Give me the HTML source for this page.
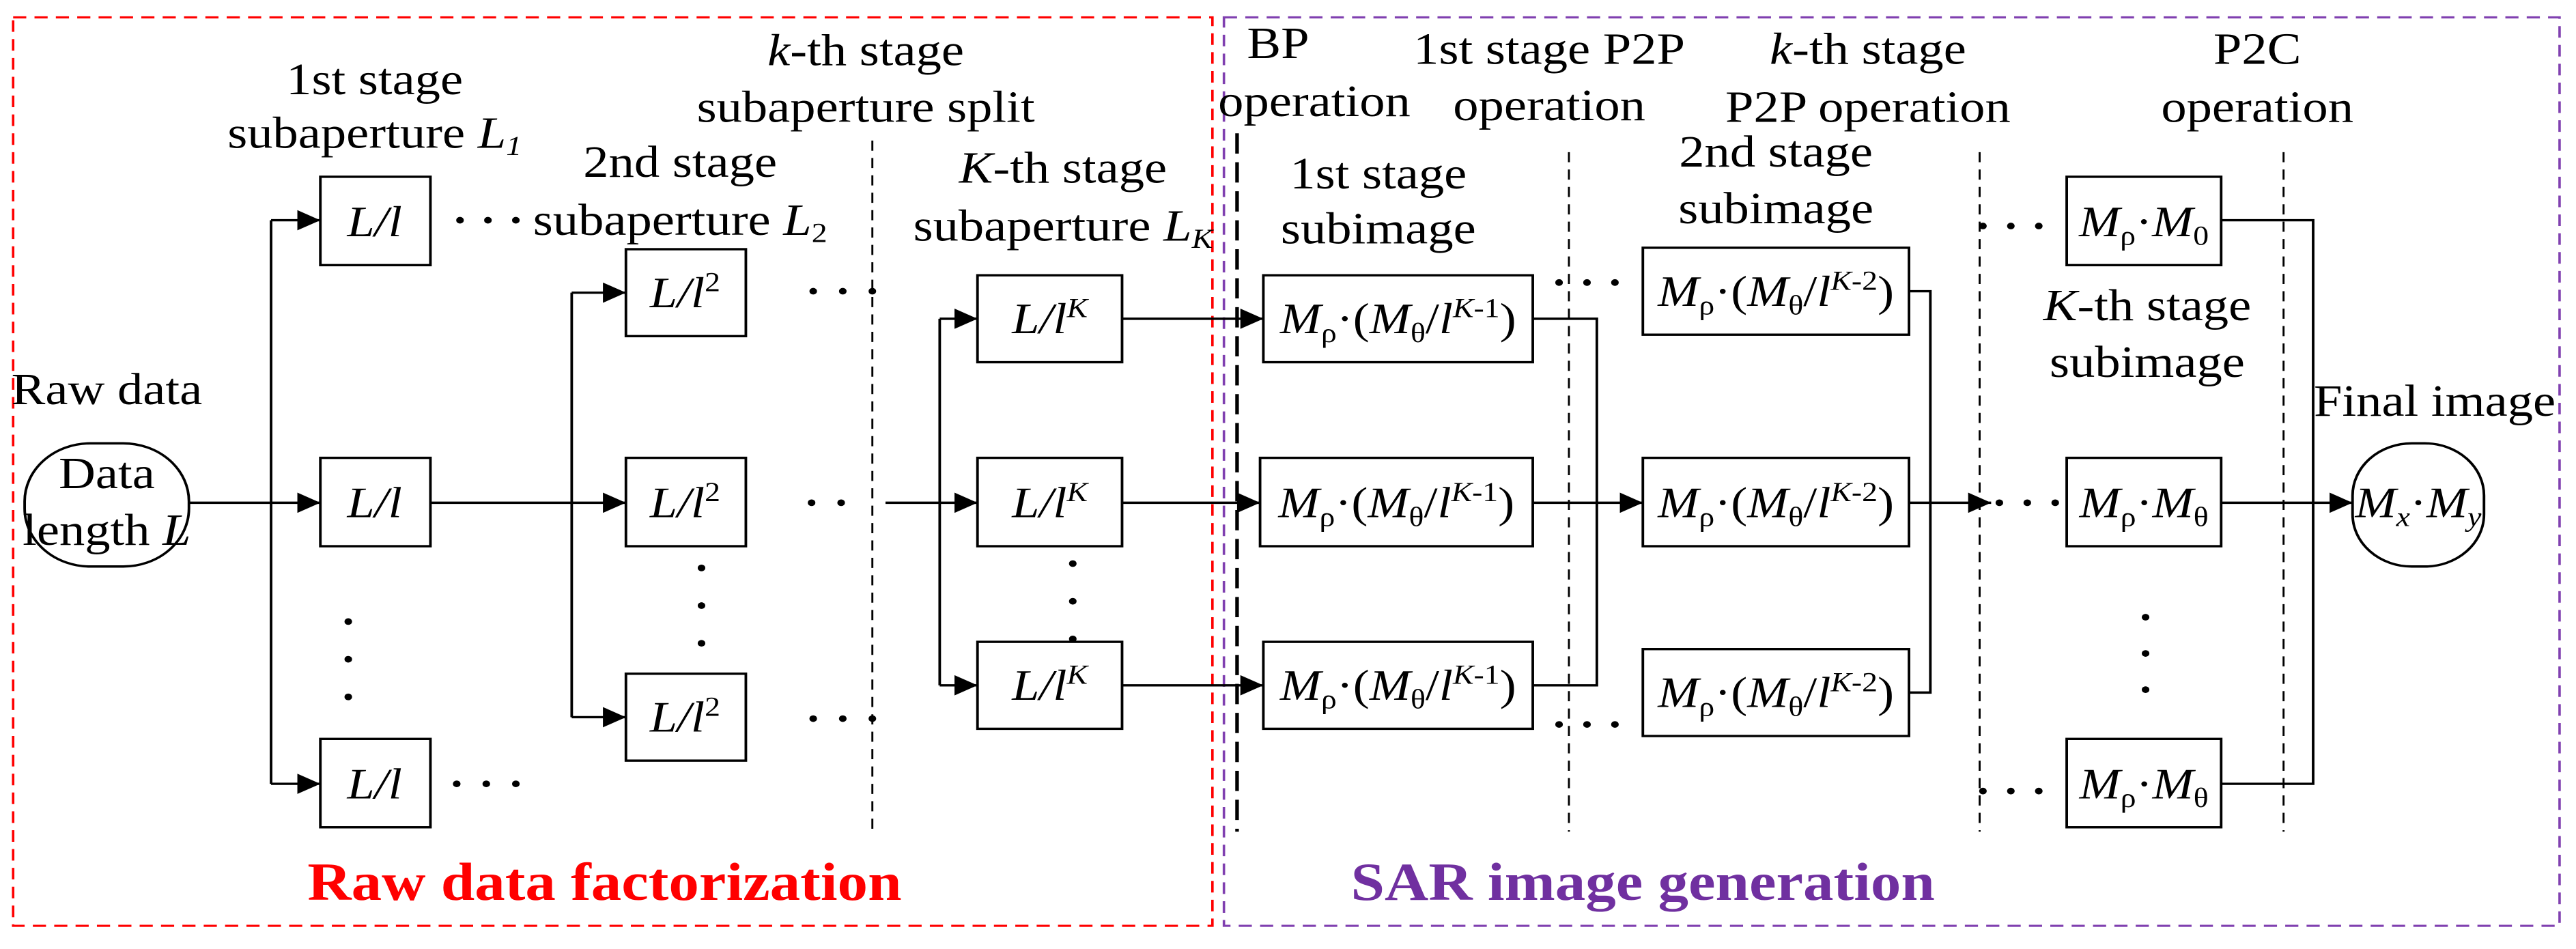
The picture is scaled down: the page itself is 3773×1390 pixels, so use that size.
<!DOCTYPE html>
<html><head><meta charset="utf-8"><style>html,body{margin:0;padding:0;background:#fff;overflow:hidden}svg{display:block}</style></head>
<body>
<svg width="3773" height="1390" viewBox="0 0 1568 655" preserveAspectRatio="none" xmlns="http://www.w3.org/2000/svg" font-family="Liberation Serif, serif" font-size="31" fill="#000">
<defs><marker id="b" viewBox="0 0 10 10" refX="10" refY="5" markerWidth="15" markerHeight="14" orient="auto" markerUnits="userSpaceOnUse"><path d="M0,0L10,5L0,10z"/></marker></defs>
<rect x="8" y="12" width="730" height="627" fill="none" stroke="#f00" stroke-width="1.5" stroke-dasharray="8,5"/>
<rect x="745" y="12" width="813" height="627" fill="none" stroke="#8040b0" stroke-width="1.5" stroke-dasharray="8,5"/>
<g stroke="#000" stroke-width="1.2" stroke-dasharray="7,5" fill="none">
<line x1="531" y1="97" x2="531" y2="574"/><line x1="955" y1="105" x2="955" y2="574"/><line x1="1205" y1="105" x2="1205" y2="574"/><line x1="1390" y1="105" x2="1390" y2="574"/></g>
<line x1="753" y1="92" x2="753" y2="574" stroke="#000" stroke-width="2.2" stroke-dasharray="14,6"/>
<g fill="none" stroke="#000" stroke-width="1.6">
<rect x="15" y="306" width="100" height="85" rx="40"/><rect x="1432" y="306" width="80" height="85" rx="36"/>
<rect x="195" y="122" width="67" height="61"/><rect x="195" y="316" width="67" height="61"/><rect x="195" y="510" width="67" height="61"/>
<rect x="381" y="172" width="73" height="60"/><rect x="381" y="316" width="73" height="61"/><rect x="381" y="465" width="73" height="60"/>
<rect x="595" y="190" width="88" height="60"/><rect x="595" y="316" width="88" height="61"/><rect x="595" y="443" width="88" height="60"/>
<rect x="769" y="190" width="164" height="60"/><rect x="767" y="316" width="166" height="61"/><rect x="769" y="443" width="164" height="60"/>
<rect x="1000" y="171" width="162" height="60"/><rect x="1000" y="316" width="162" height="61"/><rect x="1000" y="448" width="162" height="60"/>
<rect x="1258" y="122" width="94" height="61"/><rect x="1258" y="316" width="94" height="61"/><rect x="1258" y="510" width="94" height="61"/>
<path d="M115,347H165M165,152V541"/><path d="M262,347H348M348,202V495"/><path d="M539,347H572M572,220V473"/>
<path d="M933,220H972V473H933"/><path d="M1162,201H1175V478H1162"/><path d="M1352,152H1408V541H1352"/>
</g>
<g stroke="#000" stroke-width="1.6" marker-end="url(#b)">
<line x1="165" y1="152" x2="195" y2="152"/><line x1="165" y1="347" x2="195" y2="347"/><line x1="165" y1="541" x2="195" y2="541"/>
<line x1="348" y1="202" x2="381" y2="202"/><line x1="348" y1="347" x2="381" y2="347"/><line x1="348" y1="495" x2="381" y2="495"/>
<line x1="572" y1="220" x2="595" y2="220"/><line x1="572" y1="347" x2="595" y2="347"/><line x1="572" y1="473" x2="595" y2="473"/>
<line x1="683" y1="220" x2="769" y2="220"/><line x1="683" y1="347" x2="767" y2="347"/><line x1="683" y1="473" x2="769" y2="473"/>
<line x1="933" y1="347" x2="1000" y2="347"/><line x1="1162" y1="347" x2="1212" y2="347"/><line x1="1352" y1="347" x2="1432" y2="347"/>
</g>
<g>
<circle cx="280" cy="152" r="2.3"/><circle cx="297" cy="152" r="2.3"/><circle cx="314" cy="152" r="2.3"/>
<circle cx="278" cy="541" r="2.3"/><circle cx="296" cy="541" r="2.3"/><circle cx="314" cy="541" r="2.3"/>
<circle cx="212" cy="429" r="2.3"/><circle cx="212" cy="455" r="2.3"/><circle cx="212" cy="481" r="2.3"/>
<circle cx="427" cy="392" r="2.3"/><circle cx="427" cy="418" r="2.3"/><circle cx="427" cy="444" r="2.3"/>
<circle cx="653" cy="389" r="2.3"/><circle cx="653" cy="415" r="2.3"/><circle cx="653" cy="441" r="2.3"/>
<circle cx="495" cy="201" r="2.3"/><circle cx="513" cy="201" r="2.3"/><circle cx="531" cy="201" r="2.3"/>
<circle cx="494" cy="347" r="2.3"/><circle cx="512" cy="347" r="2.3"/>
<circle cx="495" cy="496" r="2.3"/><circle cx="513" cy="496" r="2.3"/><circle cx="531" cy="496" r="2.3"/>
<circle cx="949" cy="195" r="2.3"/><circle cx="966" cy="195" r="2.3"/><circle cx="983" cy="195" r="2.3"/>
<circle cx="949" cy="500" r="2.3"/><circle cx="966" cy="500" r="2.3"/><circle cx="983" cy="500" r="2.3"/>
<circle cx="1217" cy="347" r="2.3"/><circle cx="1234" cy="347" r="2.3"/><circle cx="1251" cy="347" r="2.3"/>
<circle cx="1207" cy="156" r="2.3"/><circle cx="1224" cy="156" r="2.3"/><circle cx="1241" cy="156" r="2.3"/>
<circle cx="1207" cy="546" r="2.3"/><circle cx="1224" cy="546" r="2.3"/><circle cx="1241" cy="546" r="2.3"/>
<circle cx="1306" cy="426" r="2.3"/><circle cx="1306" cy="451" r="2.3"/><circle cx="1306" cy="476" r="2.3"/>
</g>
<g text-anchor="middle">
<text x="228" y="65">1st stage</text><text x="228" y="102">subaperture <tspan font-style="italic">L<tspan font-size="19" dy="5">1</tspan></tspan></text>
<text x="527" y="45"><tspan font-style="italic">k</tspan>-th stage</text><text x="527" y="84">subaperture split</text>
<text x="414" y="122">2nd stage</text><text x="414" y="162">subaperture <tspan font-style="italic">L</tspan><tspan font-size="19" dy="5">2</tspan></text>
<text x="647" y="126"><tspan font-style="italic">K</tspan>-th stage</text><text x="647" y="166">subaperture <tspan font-style="italic">L<tspan font-size="19" dy="5">K</tspan></tspan></text>
<text x="65" y="279">Raw data</text><text x="65" y="337">Data</text><text x="65" y="376">length <tspan font-style="italic">L</tspan></text>
<text x="778" y="40">BP</text><text x="800" y="80">operation</text>
<text x="943" y="44">1st stage P2P</text><text x="943" y="83">operation</text>
<text x="1137" y="44"><tspan font-style="italic">k</tspan>-th stage</text><text x="1137" y="84">P2P operation</text>
<text x="1374" y="44">P2C</text><text x="1374" y="84">operation</text>
<text x="839" y="130">1st stage</text><text x="839" y="168">subimage</text>
<text x="1081" y="115">2nd stage</text><text x="1081" y="154">subimage</text>
<text x="1307" y="221"><tspan font-style="italic">K</tspan>-th stage</text><text x="1307" y="260">subimage</text>
<text x="1482" y="287">Final image</text>
<text x="368" y="621" font-size="37" font-weight="bold" fill="#ff0000">Raw data factorization</text>
<text x="1000" y="621" font-size="37" font-weight="bold" fill="#7030a0">SAR image generation</text>
</g>
<g text-anchor="middle" font-size="30">
<g font-style="italic"><text x="228" y="163">L/l</text><text x="228" y="357">L/l</text><text x="228" y="551">L/l</text></g>
<text x="417" y="212"><tspan font-style="italic">L/l</tspan><tspan font-size="19" dy="-11">2</tspan></text>
<text x="417" y="357"><tspan font-style="italic">L/l</tspan><tspan font-size="19" dy="-11">2</tspan></text>
<text x="417" y="505"><tspan font-style="italic">L/l</tspan><tspan font-size="19" dy="-11">2</tspan></text>
<text x="639" y="230"><tspan font-style="italic">L/l</tspan><tspan font-size="19" dy="-11" font-style="italic">K</tspan></text>
<text x="639" y="357"><tspan font-style="italic">L/l</tspan><tspan font-size="19" dy="-11" font-style="italic">K</tspan></text>
<text x="639" y="483"><tspan font-style="italic">L/l</tspan><tspan font-size="19" dy="-11" font-style="italic">K</tspan></text>
<text x="851" y="230"><tspan font-style="italic">M</tspan><tspan font-size="19" dy="6">ρ</tspan><tspan dy="-6">·(</tspan><tspan font-style="italic">M</tspan><tspan font-size="19" dy="6">θ</tspan><tspan dy="-6">/</tspan><tspan font-style="italic">l</tspan><tspan font-size="19" dy="-11"><tspan font-style="italic">K</tspan>-1</tspan><tspan dy="11">)</tspan></text>
<text x="850" y="357"><tspan font-style="italic">M</tspan><tspan font-size="19" dy="6">ρ</tspan><tspan dy="-6">·(</tspan><tspan font-style="italic">M</tspan><tspan font-size="19" dy="6">θ</tspan><tspan dy="-6">/</tspan><tspan font-style="italic">l</tspan><tspan font-size="19" dy="-11"><tspan font-style="italic">K</tspan>-1</tspan><tspan dy="11">)</tspan></text>
<text x="851" y="483"><tspan font-style="italic">M</tspan><tspan font-size="19" dy="6">ρ</tspan><tspan dy="-6">·(</tspan><tspan font-style="italic">M</tspan><tspan font-size="19" dy="6">θ</tspan><tspan dy="-6">/</tspan><tspan font-style="italic">l</tspan><tspan font-size="19" dy="-11"><tspan font-style="italic">K</tspan>-1</tspan><tspan dy="11">)</tspan></text>
<text x="1081" y="211"><tspan font-style="italic">M</tspan><tspan font-size="19" dy="6">ρ</tspan><tspan dy="-6">·(</tspan><tspan font-style="italic">M</tspan><tspan font-size="19" dy="6">θ</tspan><tspan dy="-6">/</tspan><tspan font-style="italic">l</tspan><tspan font-size="19" dy="-11"><tspan font-style="italic">K</tspan>-2</tspan><tspan dy="11">)</tspan></text>
<text x="1081" y="357"><tspan font-style="italic">M</tspan><tspan font-size="19" dy="6">ρ</tspan><tspan dy="-6">·(</tspan><tspan font-style="italic">M</tspan><tspan font-size="19" dy="6">θ</tspan><tspan dy="-6">/</tspan><tspan font-style="italic">l</tspan><tspan font-size="19" dy="-11"><tspan font-style="italic">K</tspan>-2</tspan><tspan dy="11">)</tspan></text>
<text x="1081" y="488"><tspan font-style="italic">M</tspan><tspan font-size="19" dy="6">ρ</tspan><tspan dy="-6">·(</tspan><tspan font-style="italic">M</tspan><tspan font-size="19" dy="6">θ</tspan><tspan dy="-6">/</tspan><tspan font-style="italic">l</tspan><tspan font-size="19" dy="-11"><tspan font-style="italic">K</tspan>-2</tspan><tspan dy="11">)</tspan></text>
<text x="1305" y="163"><tspan font-style="italic">M</tspan><tspan font-size="19" dy="6">ρ</tspan><tspan dy="-6">·</tspan><tspan font-style="italic">M</tspan><tspan font-size="19" dy="6">0</tspan></text>
<text x="1305" y="357"><tspan font-style="italic">M</tspan><tspan font-size="19" dy="6">ρ</tspan><tspan dy="-6">·</tspan><tspan font-style="italic">M</tspan><tspan font-size="19" dy="6">θ</tspan></text>
<text x="1305" y="551"><tspan font-style="italic">M</tspan><tspan font-size="19" dy="6">ρ</tspan><tspan dy="-6">·</tspan><tspan font-style="italic">M</tspan><tspan font-size="19" dy="6">θ</tspan></text>
<text x="1472" y="357"><tspan font-style="italic">M</tspan><tspan font-size="19" dy="6" font-style="italic">x</tspan><tspan dy="-6">·</tspan><tspan font-style="italic">M</tspan><tspan font-size="19" dy="6" font-style="italic">y</tspan></text>
</g>
</svg>
</body></html>
